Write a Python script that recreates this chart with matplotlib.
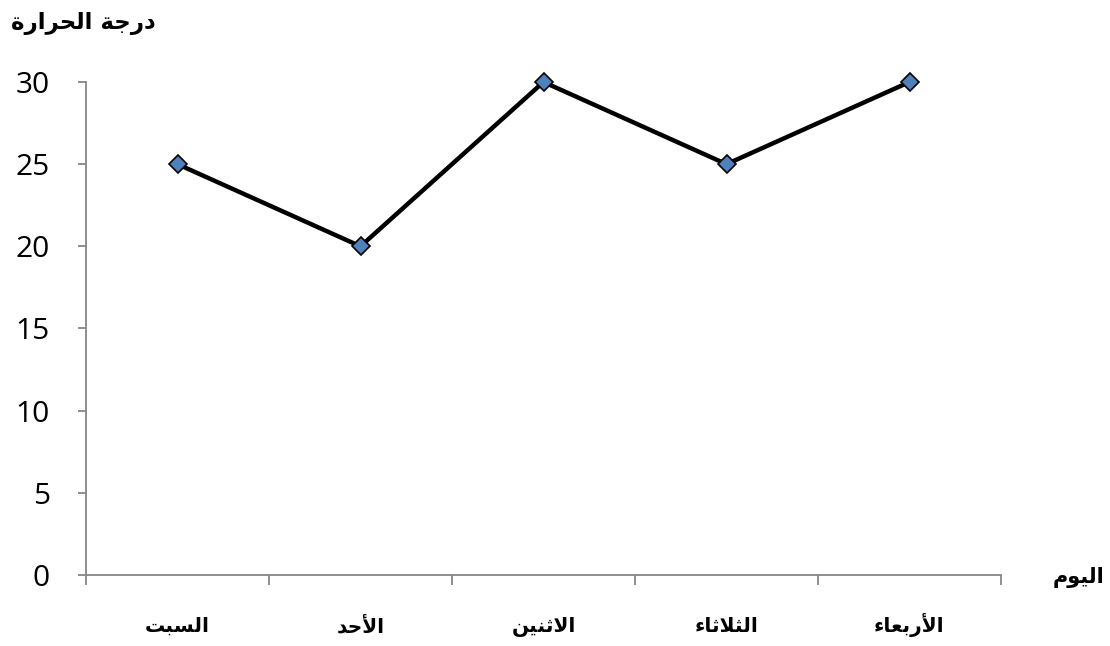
import numpy as np
import matplotlib
matplotlib.use('Agg')
import matplotlib.pyplot as plt

# data
days = ['السبت', 'الأحد', 'الاثنين', 'الثلاثاء', 'الأربعاء']
temps = [25, 20, 30, 25, 30]
y_ticks = [0, 5, 10, 15, 20, 25, 30]
y_title = 'درجة الحرارة'
x_title = 'اليوم'

# matplotlib has no arabic shaping, so map letters to presentation forms by hand
# (isolated, final, initial, medial)
FORMS = {
    'ء': ('\uFE80', None, None, None),
    'ا': ('\uFE8D', '\uFE8E', None, None),
    'أ': ('\uFE83', '\uFE84', None, None),
    'ب': ('\uFE8F', '\uFE90', '\uFE91', '\uFE92'),
    'ة': ('\uFE93', '\uFE94', None, None),
    'ت': ('\uFE95', '\uFE96', '\uFE97', '\uFE98'),
    'ث': ('\uFE99', '\uFE9A', '\uFE9B', '\uFE9C'),
    'ج': ('\uFE9D', '\uFE9E', '\uFE9F', '\uFEA0'),
    'ح': ('\uFEA1', '\uFEA2', '\uFEA3', '\uFEA4'),
    'د': ('\uFEA9', '\uFEAA', None, None),
    'ر': ('\uFEAD', '\uFEAE', None, None),
    'س': ('\uFEB1', '\uFEB2', '\uFEB3', '\uFEB4'),
    'ع': ('\uFEC9', '\uFECA', '\uFECB', '\uFECC'),
    'ل': ('\uFEDD', '\uFEDE', '\uFEDF', '\uFEE0'),
    'م': ('\uFEE1', '\uFEE2', '\uFEE3', '\uFEE4'),
    'ن': ('\uFEE5', '\uFEE6', '\uFEE7', '\uFEE8'),
    'و': ('\uFEED', '\uFEEE', None, None),
    'ي': ('\uFEF1', '\uFEF2', '\uFEF3', '\uFEF4'),
}
LAM_ALEF = {'ا': ('\uFEFB', '\uFEFC'), 'أ': ('\uFEF7', '\uFEF8')}


def joins_next(c):
    return c in FORMS and FORMS[c][2] is not None


def shape(text):
    out = []
    i = 0
    n = len(text)
    while i < n:
        c = text[i]
        prev = text[i-1] if i > 0 else ''
        from_prev = joins_next(prev)
        if c == 'ل' and i+1 < n and text[i+1] in LAM_ALEF:
            iso, fin = LAM_ALEF[text[i+1]]
            out.append(fin if from_prev else iso)
            i += 2
            continue
        if c not in FORMS:
            out.append(c)
            i += 1
            continue
        iso, fin, ini, med = FORMS[c]
        nxt = text[i+1] if i+1 < n else ''
        to_next = joins_next(c) and nxt in FORMS
        if from_prev and fin is not None:
            out.append(med if to_next else fin)
        else:
            out.append(ini if to_next else iso)
        i += 1
    return ''.join(out)[::-1]


fig = plt.figure(figsize=(11.1, 6.46), dpi=100)
ax = fig.add_axes([86/1110, 1-575/646, (1001-86)/1110, (575-82)/646])

x = np.arange(len(days))
ax.plot(x, temps, color='black', lw=3.2, marker='D', ms=9,
        mfc='#4F81BD', mec='black', mew=1.2, zorder=3, clip_on=False)

ax.set_xlim(-0.5, len(days)-0.5)
ax.set_ylim(0, 30)
ax.set_yticks(y_ticks)
ax.set_yticklabels([str(v) for v in y_ticks], fontsize=21.5, family='Open Sans')
ax.set_xticks(np.arange(-0.5, len(days)))
ax.set_xticklabels([])
ax.tick_params(axis='x', length=7, color='#868686', width=1.3)
ax.tick_params(axis='y', length=6, color='#868686', width=1.3, pad=20)

# category labels, all on one baseline
for xi, d in zip(x, days):
    ax.text(xi, -57/493, shape(d), transform=ax.get_xaxis_transform(),
            ha='center', va='baseline', fontsize=14.5, fontweight='bold',
            family='DejaVu Sans')

for s in ['top', 'right']:
    ax.spines[s].set_visible(False)
for s in ['left', 'bottom']:
    ax.spines[s].set_color('#868686')
    ax.spines[s].set_linewidth(1.3)

fig.text(83/1110, 1-29/646, shape(y_title), ha='center', va='baseline',
         fontsize=16.5, fontweight='bold', family='DejaVu Sans')
fig.text(1079/1110, 1-583/646, shape(x_title), ha='center', va='baseline',
         fontsize=15, fontweight='bold', family='DejaVu Sans')

fig.savefig('out.png', dpi=100)
